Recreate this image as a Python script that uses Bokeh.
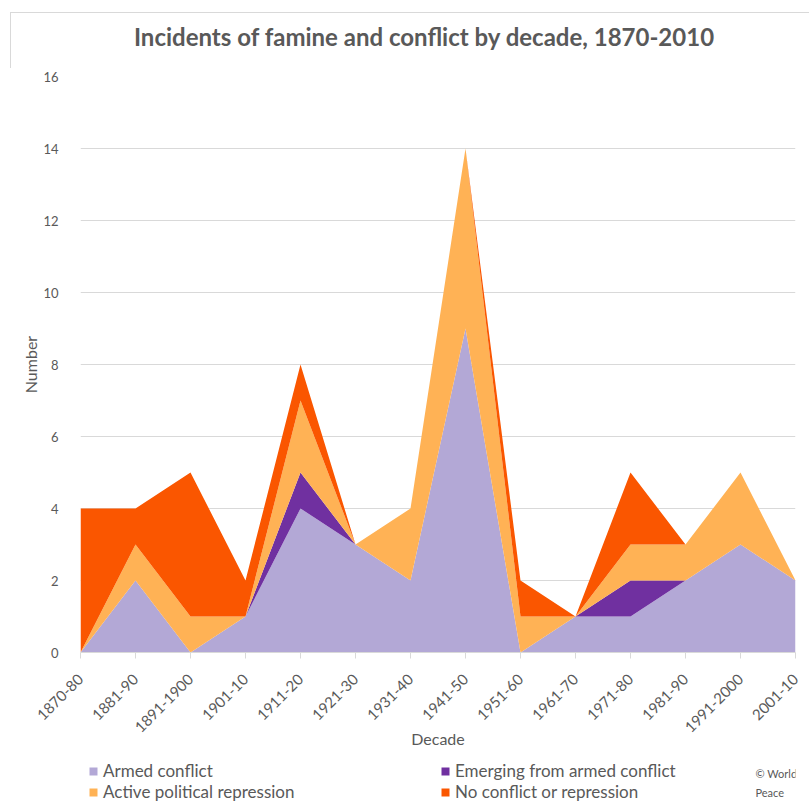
import math

from bokeh.embed import file_html
from bokeh.layouts import column
from bokeh.models import (ColumnDataSource, Div, FixedTicker, Label, Legend,
                          LegendItem, Range1d)
from bokeh.plotting import figure
from bokeh.resources import INLINE

# Decade categories and counts of famine incidents by conflict context
decades = ["1870-80", "1881-90", "1891-1900", "1901-10", "1911-20", "1921-30",
           "1931-40", "1941-50", "1951-60", "1961-70", "1971-80", "1981-90",
           "1991-2000", "2001-10"]
armed_conflict = [0, 2, 0, 1, 4, 3, 2, 9, 0, 1, 1, 2, 3, 2]
emerging_from_conflict = [0, 0, 0, 0, 1, 0, 0, 0, 0, 0, 1, 0, 0, 0]
political_repression = [0, 1, 1, 0, 2, 0, 2, 5, 1, 0, 1, 1, 2, 0]
no_conflict = [4, 1, 4, 1, 1, 0, 0, 0, 1, 0, 2, 0, 0, 0]

series_names = ["Armed conflict", "Emerging from armed conflict",
                "Active political repression", "No conflict or repression"]
series_keys = ["armed", "emerging", "repression", "none"]
colors = ["#b3a8d6", "#7030a0", "#ffb255", "#fa5600"]

TITLE = "Incidents of famine and conflict by decade, 1870-2010"
CREDIT = "© World\nPeace\nFoundation"

FONT = "Lato"
GREY = "#595959"
LIGHT = "#d9d9d9"
W = 809

# ---- header: title inside a thin light frame line ----
header_html = f"""
<div style="position:relative;width:{W}px;height:68px;overflow:hidden;">
  <div style="position:absolute;left:10px;top:12px;width:{W}px;height:70px;
              border-top:1px solid {LIGHT};border-left:1px solid {LIGHT};"></div>
  <div style="position:absolute;left:0;top:21px;width:848px;line-height:32px;
              text-align:center;font-family:{FONT};font-size:24px;
              font-weight:bold;color:{GREY};white-space:nowrap;">{TITLE}</div>
</div>
"""
header = Div(text=header_html, width=W, height=68, margin=0)

# ---- main stacked area chart ----
source = ColumnDataSource(dict(
    x=list(range(len(decades))),
    armed=armed_conflict,
    emerging=emerging_from_conflict,
    repression=political_repression,
    none=no_conflict,
))

p = figure(width=W, height=684, output_backend="svg", toolbar_location=None,
           title=None, x_range=Range1d(0, len(decades) - 1),
           y_range=Range1d(0, 16), min_border_left=80, min_border_right=14,
           min_border_top=8, min_border_bottom=100)

renderers = p.varea_stack(series_keys, x="x", source=source, color=colors)

p.outline_line_color = None

# y axis: labels only, light horizontal grid
p.yaxis.ticker = FixedTicker(ticks=list(range(0, 17, 2)))
p.yaxis.axis_line_color = None
p.yaxis.major_tick_line_color = None
p.yaxis.minor_tick_line_color = None
p.yaxis.major_label_text_font = FONT
p.yaxis.major_label_text_font_size = "13px"
p.yaxis.major_label_text_color = GREY
p.yaxis.major_label_standoff = 16
p.yaxis.axis_label = "Number"
p.yaxis.axis_label_text_font = FONT
p.yaxis.axis_label_text_font_size = "16px"
p.yaxis.axis_label_text_font_style = "normal"
p.yaxis.axis_label_text_color = GREY
p.yaxis.axis_label_standoff = 0
p.ygrid.grid_line_color = LIGHT
p.ygrid.grid_line_width = 1

# x axis: decade labels rotated 45 degrees
p.xaxis.ticker = FixedTicker(ticks=list(range(len(decades))))
p.xaxis.major_label_overrides = {i: d for i, d in enumerate(decades)}
p.xaxis.major_label_orientation = math.pi / 4
p.xaxis.axis_line_color = LIGHT
p.xaxis.major_tick_line_color = LIGHT
p.xaxis.major_tick_in = 0
p.xaxis.major_tick_out = 6
p.xaxis.minor_tick_line_color = None
p.xaxis.major_label_text_font = FONT
p.xaxis.major_label_text_font_size = "15px"
p.xaxis.major_label_text_color = GREY
p.xaxis.major_label_standoff = 18
p.xaxis.axis_label = "Decade"
p.xaxis.axis_label_text_font = FONT
p.xaxis.axis_label_text_font_size = "16px"
p.xaxis.axis_label_text_font_style = "normal"
p.xaxis.axis_label_text_color = GREY
p.xaxis.axis_label_standoff = -11
p.xgrid.grid_line_color = None

# ---- footer: legend and source note ----
footer = figure(width=W, height=51, output_backend="svg", toolbar_location=None,
                x_range=Range1d(0, 1), y_range=Range1d(0, 1),
                x_axis_location=None, y_axis_location=None,
                min_border=0, min_border_left=80, min_border_right=14)
footer.outline_line_color = None
footer.grid.visible = False

# zero-size area glyphs that carry each series colour into the legend
swatches = [footer.varea(x=[0], y1=[0], y2=[0], fill_color=c) for c in colors]

# legend fills column by column, so order items to read row by row
order = [0, 2, 1, 3]
legend = Legend(
    items=[LegendItem(label=series_names[i], renderers=[swatches[i]]) for i in order],
    ncols=2, location="top_left", label_width=337,
    glyph_width=10, glyph_height=10, spacing=0, padding=0, margin=8,
    label_height=20, label_standoff=5,
    label_text_font=FONT, label_text_font_size="17px", label_text_color=GREY,
    background_fill_alpha=0, border_line_color=None,
)
footer.add_layout(legend, "center")

footer.add_layout(Label(x=675, y=37, x_units="screen", y_units="screen",
                        text=CREDIT, text_font=FONT, text_font_size="11px",
                        text_color=GREY, text_baseline="top",
                        text_line_height=1.5))

layout = column(header, p, footer, spacing=0)
open("out.html", "w").write(file_html(layout, INLINE))
